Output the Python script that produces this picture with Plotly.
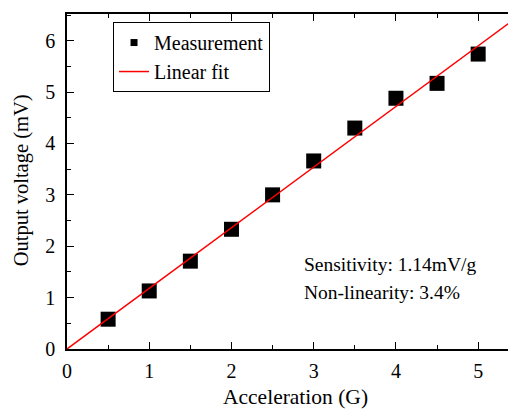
import plotly.graph_objects as go

accel = [0.5, 1.0, 1.5, 2.0, 2.5, 3.0, 3.5, 4.0, 4.5, 5.0]
voltage = [0.58, 1.13, 1.71, 2.33, 3.00, 3.66, 4.30, 4.88, 5.17, 5.74]
fit_x = [0.0, 5.5]
fit_y = [0.0, 6.49]

FONT = "Liberation Serif"

fig = go.Figure()
fig.add_trace(go.Scatter(x=accel, y=voltage, mode="markers", name="Measurement", showlegend=False,
                         marker=dict(symbol="square", size=15, color="black")))
fig.add_trace(go.Scatter(x=[None], y=[None], mode="markers", name="Measurement",
                         marker=dict(symbol="square", size=7, color="black")))
fig.add_trace(go.Scatter(x=fit_x, y=fit_y, mode="lines", name="Linear fit",
                         line=dict(color="#ff0000", width=1.5)))

fig.add_annotation(x=0.523, y=0.251, xref="paper", yref="paper", xanchor="left", yanchor="middle",
                   text="Sensitivity: 1.14mV/g", showarrow=False, font=dict(size=19.5, color="black", family=FONT))
fig.add_annotation(x=0.523, y=0.170, xref="paper", yref="paper", xanchor="left", yanchor="middle",
                   text="Non-linearity: 3.4%", showarrow=False, font=dict(size=19.5, color="black", family=FONT))
fig.add_annotation(x=0.508, y=-0.143, xref="paper", yref="paper", xanchor="center", yanchor="middle",
                   text="Acceleration (G)", showarrow=False, font=dict(size=21.5, color="black", family=FONT))
fig.add_annotation(x=-0.102, y=0.504, xref="paper", yref="paper", xanchor="center", yanchor="middle",
                   text="Output voltage (mV)", textangle=-90, showarrow=False,
                   font=dict(size=20.5, color="black", family=FONT))

fig.update_layout(
    width=508, height=402,
    margin=dict(l=59, r=0, t=6, b=61, autoexpand=False),
    paper_bgcolor="white", plot_bgcolor="white",
    font=dict(family=FONT, color="black", size=20),
    showlegend=True,
    legend=dict(x=0.1025, y=0.976, xanchor="left", yanchor="top",
                bordercolor="black", borderwidth=1, bgcolor="white",
                font=dict(size=20, family=FONT), tracegroupgap=0),
    xaxis=dict(range=[0, 5.46], tickvals=[0, 1, 2, 3, 4, 5], ticks="inside", ticklen=7, tickwidth=1,
               tickcolor="black", showline=True, linecolor="black", linewidth=1.5, mirror="ticks",
               showgrid=False, zeroline=False, automargin=False, ticklabelstandoff=3,
               minor=dict(dtick=0.5, ticks="inside", ticklen=4, tickcolor="black", showgrid=False),
               tickfont=dict(size=20, family=FONT)),
    yaxis=dict(range=[0, 6.52], tickvals=[0, 1, 2, 3, 4, 5, 6], ticks="inside", ticklen=7, tickwidth=1,
               tickcolor="black", showline=True, linecolor="black", linewidth=1.5, mirror=False,
               showgrid=False, zeroline=False, automargin=False, ticklabelstandoff=6,
               minor=dict(dtick=0.5, ticks="inside", ticklen=4, tickcolor="black", showgrid=False),
               tickfont=dict(size=20, family=FONT)),
)

fig.write_html("out.html")
